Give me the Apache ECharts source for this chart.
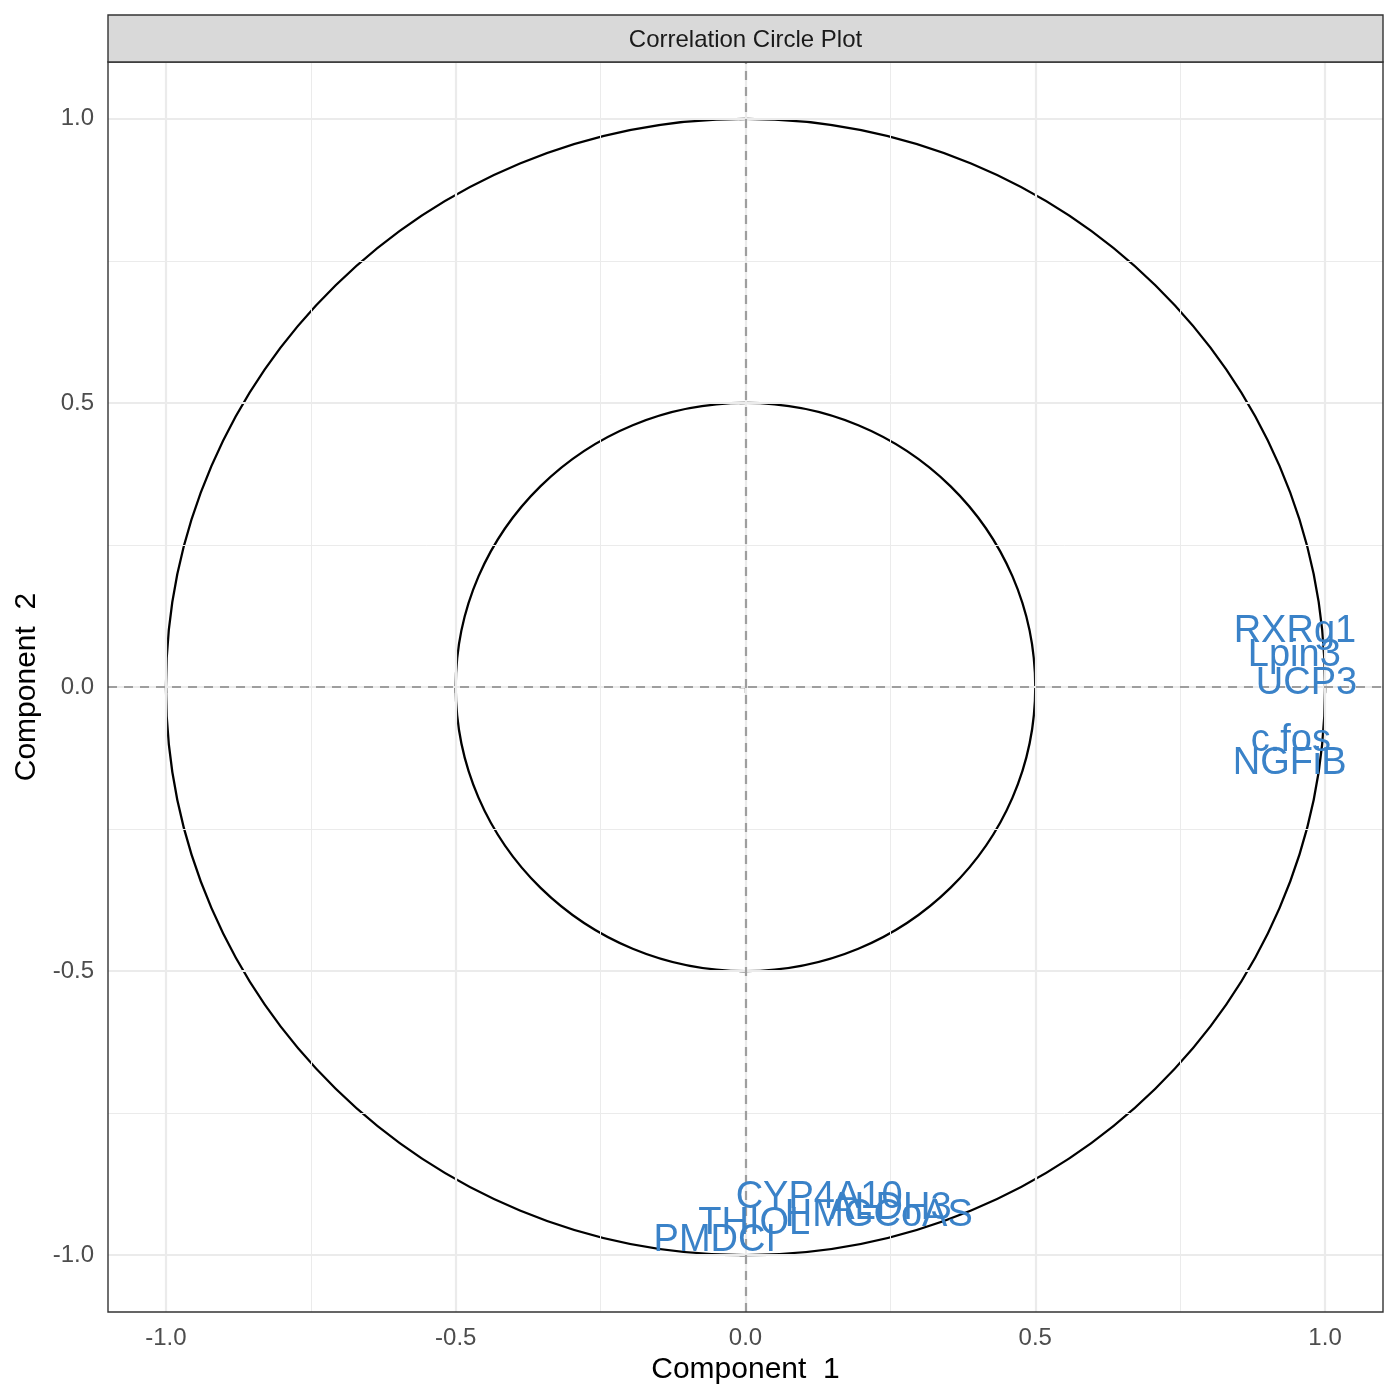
<!DOCTYPE html>
<html>
<head>
<meta charset="utf-8">
<script src="https://cdn.jsdelivr.net/npm/echarts@6/dist/echarts.min.js"></script>
<style>html,body{margin:0;padding:0;background:#fff}#c{width:1400px;height:1400px}</style>
</head>
<body>
<div id="c"></div>
<script>
// Data
var genes = ['RXRg1', 'Lpin3', 'UCP3', 'c.fos', 'NGFiB', 'CYP4A10', 'ALDH3', 'HMGCoAS', 'THIOL', 'PMDCI'];
var comp1 = [0.948, 0.947, 0.968, 0.941, 0.939, 0.127, 0.250, 0.230, 0.015, -0.053];
var comp2 = [0.104, 0.063, 0.013, -0.087, -0.128, -0.891, -0.911, -0.923, -0.937, -0.967];
var tickValues = [-1, -0.5, 0, 0.5, 1];
var minorValues = [-0.75, -0.25, 0.25, 0.75];
var circleRadii = [1, 0.5];
var title = 'Correlation Circle Plot';

var FONT = '"Liberation Sans", Arial, Helvetica, sans-serif';
var chart = echarts.init(document.getElementById('c'), null, {renderer: 'canvas'});

function vLines(vals) { return vals.map(function (v) { return {xAxis: v}; }); }
function hLines(vals) { return vals.map(function (v) { return {yAxis: v}; }); }

var labelData = genes.map(function (g, i) { return [comp1[i], comp2[i], g]; });

var option = {
  animation: false,
  backgroundColor: '#ffffff',
  grid: {left: 108, right: 17, top: 62, bottom: 88, show: true, borderColor: '#333333', borderWidth: 1.4, backgroundColor: 'transparent', z: 10},
  graphic: [
    {type: 'rect', shape: {x: 108, y: 15, width: 1275, height: 47}, style: {fill: '#D9D9D9', stroke: '#333333', lineWidth: 1.4}, z: 100},
    {type: 'text', x: 745.5, y: 40, style: {text: title, fontSize: 24, fontFamily: FONT, fill: '#1A1A1A', align: 'center', verticalAlign: 'middle'}, z: 101}
  ],
  xAxis: {
    type: 'value', min: -1.1, max: 1.1,
    name: 'Component  1', nameLocation: 'middle', nameGap: 43,
    nameTextStyle: {fontSize: 30, fontFamily: FONT, color: '#000000'},
    axisLine: {show: false},
    axisTick: {show: true, customValues: tickValues, length: 6, lineStyle: {color: '#333333', width: 1.4}},
    axisLabel: {customValues: tickValues, fontSize: 24, fontFamily: FONT, color: '#4D4D4D', margin: 14,
      formatter: function (v) { return v.toFixed(1); }},
    splitLine: {show: false}
  },
  yAxis: {
    type: 'value', min: -1.1, max: 1.1,
    name: 'Component  2', nameLocation: 'middle', nameGap: 66, nameRotate: 90,
    nameTextStyle: {fontSize: 30, fontFamily: FONT, color: '#000000'},
    axisLine: {show: false},
    axisTick: {show: true, customValues: tickValues, length: 6, lineStyle: {color: '#333333', width: 1.4}},
    axisLabel: {customValues: tickValues, fontSize: 24, fontFamily: FONT, color: '#4D4D4D', margin: 14,
      formatter: function (v) { return v.toFixed(1); }},
    splitLine: {show: false}
  },
  series: [
    {type: 'line', data: [], silent: true, z: 1,
      markLine: {silent: true, symbol: 'none', label: {show: false}, animation: false,
        lineStyle: {color: '#EBEBEB', width: 1, type: 'solid'},
        data: vLines(minorValues).concat(hLines(minorValues))}},
    {type: 'line', data: [], silent: true, z: 2,
      markLine: {silent: true, symbol: 'none', label: {show: false}, animation: false,
        lineStyle: {color: '#EBEBEB', width: 2.2, type: 'solid'},
        data: vLines(tickValues).concat(hLines(tickValues))}},
    {type: 'line', data: [], silent: true, z: 3,
      markLine: {silent: true, symbol: 'none', label: {show: false}, animation: false,
        lineStyle: {color: '#9E9E9E', width: 2.2, type: [9, 7]},
        data: [{xAxis: 0}, {yAxis: 0}]}},
    {type: 'custom', silent: true, z: 4, clip: false,
      data: circleRadii.map(function (r) { return [0, 0, r]; }),
      renderItem: function (params, api) {
        var c = api.coord([api.value(0), api.value(1)]);
        var s = api.size([api.value(2), api.value(2)]);
        return {type: 'ellipse', shape: {cx: c[0], cy: c[1], rx: s[0], ry: s[1]},
          style: {fill: 'none', stroke: '#000000', lineWidth: 2.3}};
      }},
    {type: 'custom', silent: true, z: 5, clip: false,
      data: labelData,
      renderItem: function (params, api) {
        var c = api.coord([api.value(0), api.value(1)]);
        return {type: 'text', x: c[0], y: c[1] + 4,
          style: {text: labelData[params.dataIndex][2], fontSize: 38, fontFamily: FONT, fill: '#3A82C8',
            align: 'center', verticalAlign: 'middle'}};
      }}
  ]
};
chart.setOption(option);
</script>
</body>
</html>
